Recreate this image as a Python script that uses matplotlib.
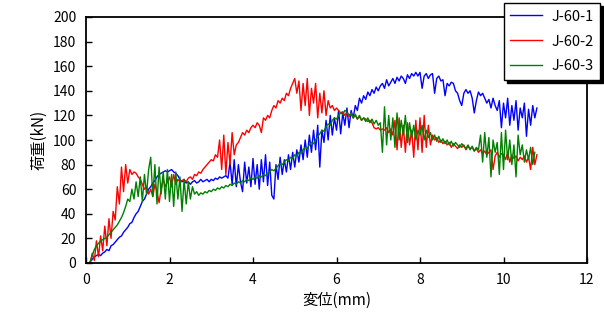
import numpy as np
import matplotlib
matplotlib.use("Agg")
import matplotlib.pyplot as plt

plt.rcParams['font.family'] = ['Noto Sans CJK JP', 'DejaVu Sans']

# displacement grid start / step (mm) for the sampled readings
x_start = 0.10
x_step = 0.05

# J-60-1 load (kN), read every 0.05 mm from 0.10 mm
load_1 = [
    1, 3, 5, 6, 7, 6, 8, 9, 11, 10, 14, 15, 17, 19, 21, 22, 25, 27,
    29, 32, 33, 37, 40, 42, 46, 50, 52, 56, 60, 62, 65, 67, 70, 72, 73, 74, 75, 74,
    75, 76, 74, 73, 71, 68, 66, 67, 65, 66, 64, 66, 67, 65, 66, 68, 66, 67, 68, 66,
    68, 67, 69, 68, 70, 69, 70, 71, 69, 82, 64, 84, 62, 80, 66, 58, 82, 65, 78, 62,
    85, 64, 80, 60, 84, 66, 88, 63, 82, 55, 52, 80, 68, 86, 72, 84, 74, 88, 76, 90,
    78, 92, 82, 96, 84, 100, 86, 104, 90, 108, 92, 112, 78, 108, 98, 116, 100, 120, 104, 118,
    108, 124, 105, 122, 112, 126, 110, 124, 118, 128, 124, 134, 130, 136, 133, 139, 136, 141, 138, 143,
    140, 144, 146, 142, 149, 144, 147, 150, 146, 151, 148, 152, 150, 146, 153, 150, 154, 152, 155, 152,
    155, 142, 152, 154, 150, 153, 154, 138, 150, 152, 148, 149, 136, 146, 144, 147, 146, 140, 138, 132,
    128, 138, 141, 138, 140, 134, 122, 132, 139, 136, 138, 134, 130, 133, 126, 134, 128, 124, 132, 110,
    130, 118, 134, 112, 128, 116, 132, 108, 126, 118, 130, 103, 125, 112, 128, 118, 126,
]

# J-60-2 load (kN)
load_2 = [
    0, 8, 2, 18, 5, 22, 10, 30, 14, 36, 20, 42, 35, 62, 48, 78, 58, 80,
    65, 76, 72, 74, 73, 70, 68, 64, 60, 62, 56, 60, 54, 64, 58, 49, 60, 68, 62, 66,
    70, 62, 72, 64, 68, 66, 67, 68, 66, 69, 70, 68, 72, 71, 74, 73, 76, 78, 80, 82,
    84, 83, 88, 86, 100, 76, 104, 72, 98, 80, 106, 88, 96, 98, 102, 106, 104, 108, 106, 110,
    112, 110, 114, 112, 106, 118, 116, 120, 118, 124, 128, 126, 132, 130, 134, 132, 138, 136, 142, 146,
    150, 138, 148, 124, 146, 128, 150, 120, 142, 130, 146, 118, 138, 122, 140, 120, 132, 126, 128, 124,
    126, 124, 122, 123, 120, 122, 119, 121, 118, 120, 117, 119, 116, 118, 117, 115, 116, 114, 110, 109,
    110, 108, 109, 108, 110, 106, 109, 104, 116, 92, 118, 94, 112, 90, 114, 96, 108, 86, 116, 92,
    118, 90, 120, 94, 112, 96, 104, 100, 102, 98, 100, 97, 99, 96, 98, 94, 97, 95, 93, 96,
    94, 96, 92, 95, 93, 94, 91, 93, 90, 92, 89, 91, 88, 90, 92, 76, 87, 90, 86, 89,
    88, 84, 90, 82, 88, 85, 87, 83, 86, 84, 87, 82, 86, 76, 94, 80, 88,
]

# J-60-3 load (kN)
load_3 = [
    1, 6, 11, 14, 16, 18, 19, 20, 21, 23, 25, 27, 29, 31, 34, 37, 41, 46,
    52, 50, 60, 52, 66, 54, 70, 50, 72, 56, 76, 86, 54, 80, 48, 78, 56, 74, 52, 76,
    50, 72, 46, 74, 52, 70, 42, 68, 48, 66, 52, 62, 56, 58, 55, 57, 56, 58, 57, 59,
    58, 60, 59, 61, 60, 62, 61, 63, 62, 64, 63, 65, 64, 66, 65, 67, 66, 68, 67, 69,
    68, 70, 69, 71, 70, 72, 71, 73, 74, 76, 75, 77, 79, 81, 80, 82, 84, 83, 86, 85,
    88, 87, 90, 89, 92, 94, 93, 96, 98, 97, 100, 103, 105, 108, 107, 111, 113, 112, 116, 118,
    117, 120, 122, 121, 124, 123, 120, 122, 118, 121, 117, 120, 116, 118, 115, 118, 114, 117, 113, 116,
    112, 114, 90, 127, 96, 120, 100, 118, 94, 122, 100, 116, 104, 120, 98, 114, 102, 112, 100, 108,
    104, 112, 100, 108, 102, 106, 100, 104, 99, 103, 98, 101, 97, 100, 96, 99, 95, 98, 96, 94,
    97, 95, 93, 96, 92, 95, 91, 94, 92, 104, 82, 106, 86, 102, 70, 100, 90, 98, 72, 106,
    76, 108, 84, 100, 80, 96, 70, 104, 88, 96, 82, 92, 84, 94, 80, 90,
]

series_names = ["J-60-1", "J-60-2", "J-60-3"]
series_colors = ["#0000FF", "#FF0000", "#008000"]
series_loads = [load_1, load_2, load_3]

x_ticks = [0, 2, 4, 6, 8, 10, 12]
y_ticks = list(range(0, 201, 20))

fig = plt.figure(figsize=(6.04, 3.31), dpi=100)
ax = fig.add_axes([86 / 604, 1 - 263 / 331, (587 - 86) / 604, (263 - 17) / 331])

for name, col, load in zip(series_names, series_colors, series_loads):
    disp = x_start + x_step * np.arange(len(load))
    ax.plot(disp, load, color=col, lw=1.0, label=name)

ax.set_xlim(0, 12)
ax.set_ylim(0, 200)
ax.set_xticks(x_ticks)
ax.set_yticks(y_ticks)
ax.tick_params(direction='in', length=4, width=1, labelsize=10, colors='black', pad=7)
for s in ax.spines.values():
    s.set_linewidth(1.3)
    s.set_color('black')

ax.set_xlabel("変位(mm)", fontsize=11, labelpad=4)
ax.set_ylabel("荷重(kN)", fontsize=11, labelpad=4)

leg = fig.legend(loc='upper right', bbox_to_anchor=(600 / 604, 1 - 3 / 331),
                 frameon=True, fancybox=False, edgecolor='black', framealpha=1,
                 shadow={'color': 'black', 'alpha': 1, 'ox': 2, 'oy': -2},
                 fontsize=10.5, handlelength=2.2, labelspacing=0.75,
                 borderpad=0.45, handletextpad=0.6, borderaxespad=0)
leg.get_frame().set_linewidth(1.0)
for l in leg.get_lines():
    l.set_linewidth(1.0)

fig.savefig("out.png", dpi=100)
